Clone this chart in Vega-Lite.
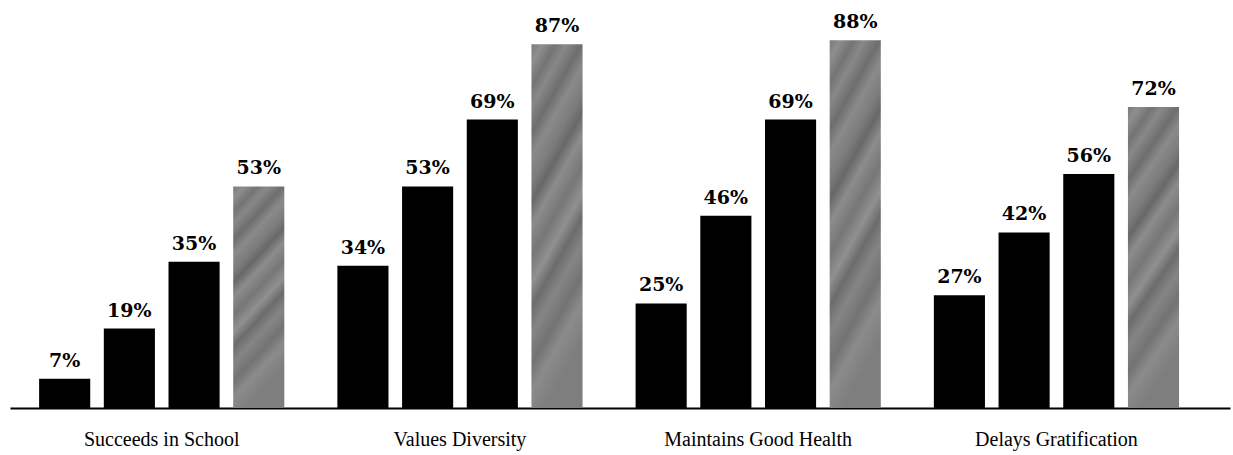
{
  "$schema": "https://vega.github.io/schema/vega-lite/v6.json",
  "width": 1220,
  "height": 408,
  "autosize": {"type": "none"},
  "padding": {"left": 10, "top": 0, "right": 3, "bottom": 47},
  "background": "white",
  "config": {"view": {"stroke": null}},
  "data": {
    "values": [
      {"category": "Succeeds in School", "series": 1, "value": 0.07},
      {"category": "Succeeds in School", "series": 2, "value": 0.19},
      {"category": "Succeeds in School", "series": 3, "value": 0.35},
      {"category": "Succeeds in School", "series": 4, "value": 0.53},
      {"category": "Values Diversity", "series": 1, "value": 0.34},
      {"category": "Values Diversity", "series": 2, "value": 0.53},
      {"category": "Values Diversity", "series": 3, "value": 0.69},
      {"category": "Values Diversity", "series": 4, "value": 0.87},
      {"category": "Maintains Good Health", "series": 1, "value": 0.25},
      {"category": "Maintains Good Health", "series": 2, "value": 0.46},
      {"category": "Maintains Good Health", "series": 3, "value": 0.69},
      {"category": "Maintains Good Health", "series": 4, "value": 0.88},
      {"category": "Delays Gratification", "series": 1, "value": 0.27},
      {"category": "Delays Gratification", "series": 2, "value": 0.42},
      {"category": "Delays Gratification", "series": 3, "value": 0.56},
      {"category": "Delays Gratification", "series": 4, "value": 0.72}
    ]
  },
  "encoding": {
    "x": {
      "field": "category",
      "type": "nominal",
      "sort": null,
      "scale": {"paddingInner": 0, "paddingOuter": 0.0453, "align": 0.096},
      "axis": {
        "title": null,
        "labelAngle": 0,
        "ticks": false,
        "domainColor": "black",
        "domainWidth": 2,
        "labelFont": "Liberation Serif",
        "labelFontSize": 20,
        "labelColor": "black",
        "labelPadding": 21,
        "labelLimit": 0
      }
    },
    "xOffset": {
      "field": "series",
      "type": "nominal",
      "scale": {"paddingInner": 0.21, "paddingOuter": 0.41}
    },
    "y": {
      "field": "value",
      "type": "quantitative",
      "scale": {"domain": [0, 0.976], "nice": false, "zero": true},
      "axis": null
    }
  },
  "layer": [
    {
      "transform": [{"filter": "datum.series < 4"}],
      "mark": {"type": "bar", "color": "black"}
    },
    {
      "transform": [{"filter": "datum.series == 4"}],
      "mark": {
        "type": "bar",
        "color": {
          "gradient": "linear",
          "x1": 0, "y1": 0, "x2": 0.25, "y2": 1,
          "stops": [
            {"offset": 0, "color": "#7a7a7a"},
            {"offset": 0.05, "color": "#8e8e8e"},
            {"offset": 0.11, "color": "#747474"},
            {"offset": 0.16, "color": "#888888"},
            {"offset": 0.23, "color": "#6e6e6e"},
            {"offset": 0.29, "color": "#8a8a8a"},
            {"offset": 0.36, "color": "#7c7c7c"},
            {"offset": 0.41, "color": "#686868"},
            {"offset": 0.47, "color": "#8c8c8c"},
            {"offset": 0.55, "color": "#777777"},
            {"offset": 0.62, "color": "#909090"},
            {"offset": 0.68, "color": "#6c6c6c"},
            {"offset": 0.75, "color": "#858585"},
            {"offset": 0.83, "color": "#737373"},
            {"offset": 0.9, "color": "#8b8b8b"},
            {"offset": 1, "color": "#7e7e7e"}
          ]
        }
      }
    },
    {
      "mark": {
        "type": "text",
        "baseline": "bottom",
        "dy": -8,
        "font": "DejaVu Serif",
        "fontWeight": "bold",
        "fontSize": 19,
        "color": "black"
      },
      "encoding": {
        "text": {"field": "value", "type": "quantitative", "format": ".0%"}
      }
    }
  ]
}
